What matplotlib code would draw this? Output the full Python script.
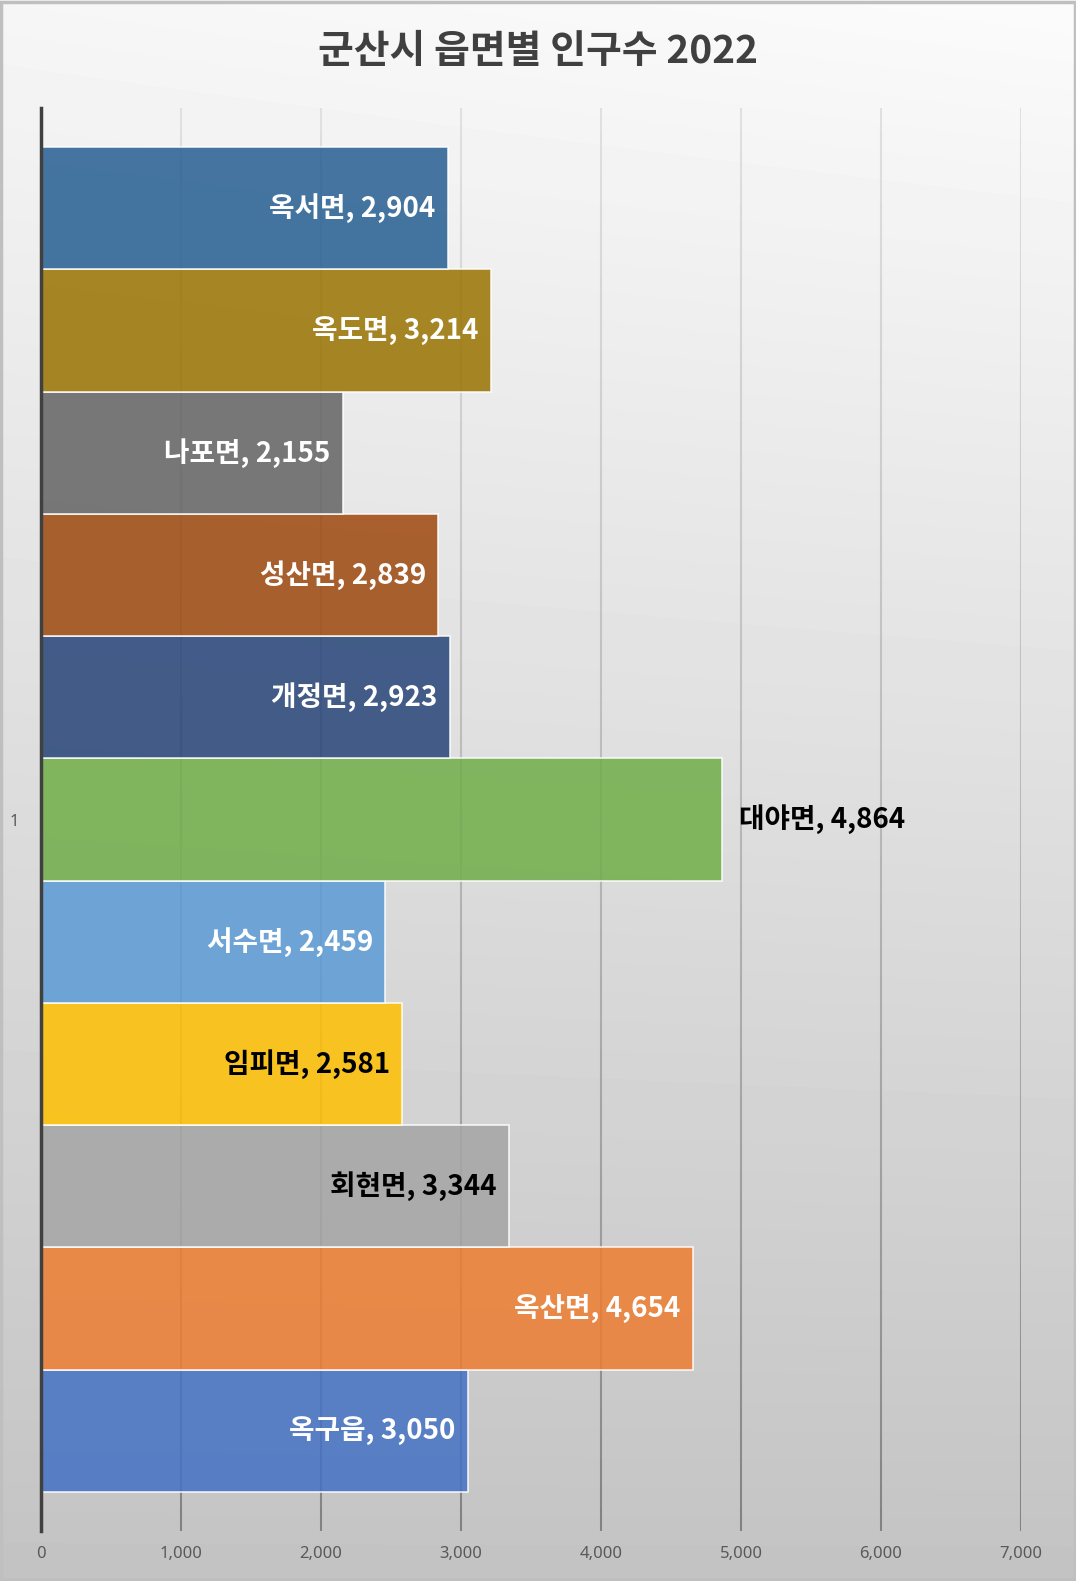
import numpy as np
import matplotlib
matplotlib.use('Agg')
import matplotlib.pyplot as plt
from matplotlib.collections import LineCollection
from matplotlib.patches import Rectangle

# series order = bottom to top (as Excel draws them)
names = ['옥구읍', '옥산면', '회현면', '임피면', '서수면', '대야면',
         '개정면', '성산면', '나포면', '옥도면', '옥서면']
population = [3050, 4654, 3344, 2581, 2459, 4864, 2923, 2839, 2155, 3214, 2904]
colors = ['#4472C4', '#ED7D31', '#A5A5A5', '#FFC000', '#5B9BD5', '#70AD47',
          '#264478', '#9E480E', '#636363', '#997300', '#255E91']
xticks = [0, 1000, 2000, 3000, 4000, 5000, 6000, 7000]
title = '군산시 읍면별 인구수 2022'

dark_labels = {'임피면', '회현면'}
outside_labels = {'대야면'}

KR = ['Noto Sans CJK KR', 'DejaVu Sans']

fig = plt.figure(figsize=(10.76, 15.81), dpi=100)

# gradient background for the whole chart area
bg = fig.add_axes([0, 0, 1, 1], zorder=-10)
yy, xx = np.mgrid[0:1:400j, 0:1:200j]
shade = 0.975 - 0.21 * yy + 0.02 * (xx - 0.5) * (1 - yy)
bg.imshow(shade, cmap='gray', vmin=0, vmax=1, aspect='auto',
          extent=[0, 1, 1, 0], interpolation='bilinear')
bg.set_xlim(0, 1)
bg.set_ylim(1, 0)
bg.axis('off')
bg.add_patch(Rectangle((0.001, 0.001), 0.998, 0.998, fill=False,
                       edgecolor='#BFBFBF', linewidth=2.5,
                       transform=bg.transAxes))

ax = fig.add_axes([41 / 1076, 1 - 1531 / 1581, 980 / 1076, 1423 / 1581])
ax.patch.set_alpha(0)

pos = np.arange(len(names))
ax.barh(pos, population, height=1.0, color=colors, alpha=0.85,
        edgecolor=(1, 1, 1, 0.7), linewidth=1.2, zorder=3)

pad = 0.32
ax.set_ylim(-0.5 - pad, len(names) - 0.5 + pad)
ax.set_xlim(0, 7000)

# vertical gridlines getting darker towards the bottom
y0, y1 = ax.get_ylim()
ys = np.linspace(y0, y1, 60)
segs, cols = [], []
for xv in xticks[1:]:
    for a, b in zip(ys[:-1], ys[1:]):
        segs.append([(xv, a), (xv, b)])
        t = ((a + b) / 2 - y0) / (y1 - y0)
        g = 0.50 + 0.38 * t ** 0.8
        cols.append((g, g, g))
ax.add_collection(LineCollection(segs, colors=cols, linewidths=1.5, zorder=1))

for i, (n, v) in enumerate(zip(names, population)):
    txt = f'{n}, {v:,}'
    if n in outside_labels:
        ax.annotate(txt, (v, i), xytext=(12, 0), textcoords='offset points',
                    ha='left', va='center', fontsize=20, fontweight='bold',
                    color='black', family=KR, zorder=5)
    else:
        ax.annotate(txt, (v, i), xytext=(-9, 0), textcoords='offset points',
                    ha='right', va='center', fontsize=20, fontweight='bold',
                    color='black' if n in dark_labels else 'white',
                    family=KR, zorder=5)

ax.set_xticks(xticks)
ax.set_xticklabels([f'{x:,}' for x in xticks])
ax.set_yticks([(len(names) - 1) / 2])
ax.set_yticklabels(['1'])
ax.tick_params(axis='both', length=0, colors='#595959', labelsize=12)
ax.tick_params(axis='x', pad=11)
ax.tick_params(axis='y', pad=16)
for lab in ax.get_xticklabels() + ax.get_yticklabels():
    lab.set_family('Noto Sans')

for s in ['top', 'right', 'bottom']:
    ax.spines[s].set_visible(False)
ax.spines['left'].set_color('#404040')
ax.spines['left'].set_linewidth(2.5)
ax.spines['left'].set_zorder(6)

fig.text(0.5, 1 - 52 / 1581, title, ha='center', va='center', fontsize=28,
         fontweight='bold', color='#404040', family=KR)

fig.savefig('out.png', dpi=100)
